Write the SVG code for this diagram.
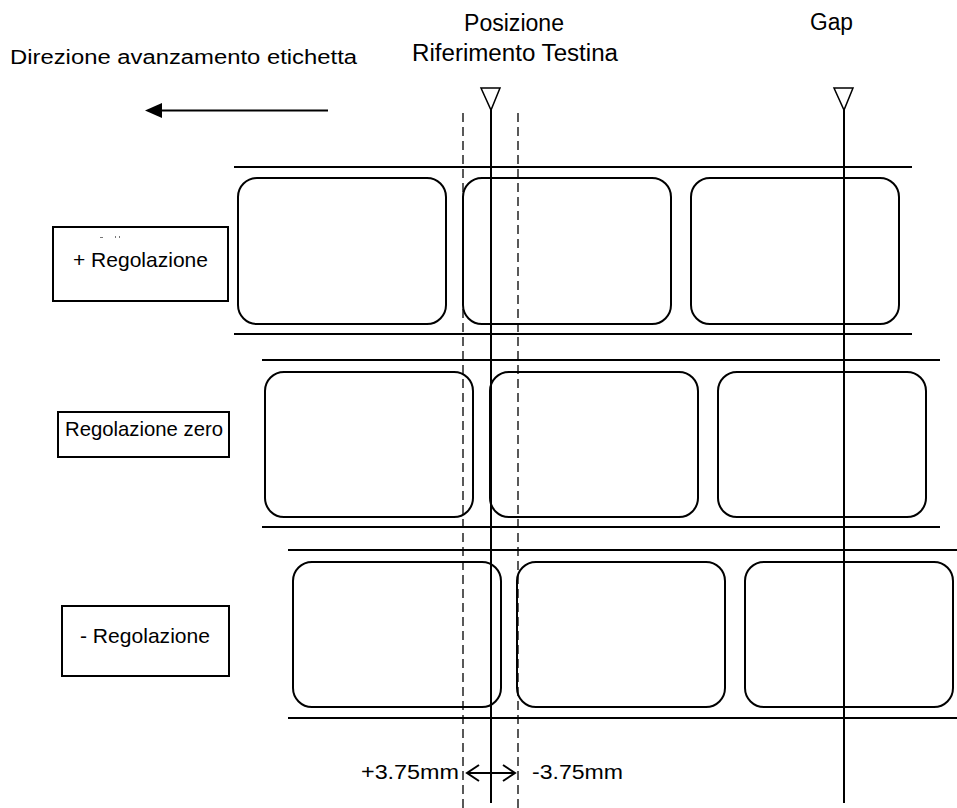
<svg xmlns="http://www.w3.org/2000/svg" width="957" height="808" viewBox="0 0 957 808">
<style>
  .t{font-family:"Liberation Sans",Arial,sans-serif;fill:#000}
  .lab{fill:#fff;stroke:#000;stroke-width:2}
  .web{stroke:#000;stroke-width:2;fill:none}
  .box{fill:#fff;stroke:#000;stroke-width:2}
  .dash{stroke:#000;stroke-width:1.3;stroke-dasharray:9,5;fill:none}
  .solid{stroke:#000;stroke-width:2;fill:none}
  .tri{fill:#fff;stroke:#000;stroke-width:1.5}
</style>
<rect width="957" height="808" fill="#fff"/>

<g id="titles">
  <text class="t" x="10" y="64" font-size="20" textLength="347" lengthAdjust="spacingAndGlyphs">Direzione avanzamento etichetta</text>
  <text class="t" x="464" y="31" font-size="23" textLength="100" lengthAdjust="spacingAndGlyphs">Posizione</text>
  <text class="t" x="412" y="61" font-size="23" textLength="206" lengthAdjust="spacingAndGlyphs">Riferimento Testina</text>
  <text class="t" x="810" y="30" font-size="23" textLength="43" lengthAdjust="spacingAndGlyphs">Gap</text>
</g>

<g id="row1">
  <line class="web" x1="234" y1="167" x2="912" y2="167"/>
  <line class="web" x1="234" y1="334" x2="912" y2="334"/>
  <rect class="lab" x="238" y="178" width="208" height="146" rx="19"/>
  <rect class="lab" x="463" y="178" width="208" height="146" rx="19"/>
  <rect class="lab" x="691" y="178" width="208" height="146" rx="19"/>
</g>
<g id="row2">
  <line class="web" x1="262" y1="360" x2="940" y2="360"/>
  <line class="web" x1="262" y1="527" x2="940" y2="527"/>
  <rect class="lab" x="265" y="372" width="208" height="145" rx="19"/>
  <rect class="lab" x="490" y="372" width="208" height="145" rx="19"/>
  <rect class="lab" x="718" y="372" width="208" height="145" rx="19"/>
</g>
<g id="row3">
  <line class="web" x1="288" y1="550" x2="957" y2="550"/>
  <line class="web" x1="288" y1="718" x2="957" y2="718"/>
  <rect class="lab" x="293" y="562" width="208" height="145" rx="19"/>
  <rect class="lab" x="517" y="562" width="208" height="145" rx="19"/>
  <rect class="lab" x="745" y="562" width="208" height="145" rx="19"/>
</g>

<g id="node-plus">
  <rect class="box" x="53" y="227" width="175" height="74"/>
  <rect x="100" y="237" width="3" height="1" fill="#777"/>
  <rect x="115" y="236" width="1" height="2" fill="#777"/>
  <rect x="119" y="236" width="1" height="2" fill="#777"/>
  <text class="t" x="73" y="267" font-size="21" textLength="135" lengthAdjust="spacingAndGlyphs">+ Regolazione</text>
</g>
<g id="node-zero">
  <rect class="box" x="58" y="412" width="171" height="45"/>
  <text class="t" x="65" y="436" font-size="21" textLength="158" lengthAdjust="spacingAndGlyphs">Regolazione zero</text>
</g>
<g id="node-minus">
  <rect class="box" x="62" y="606" width="167" height="70"/>
  <text class="t" x="80" y="643" font-size="21" textLength="130" lengthAdjust="spacingAndGlyphs">- Regolazione</text>
</g>

<g id="connectors">
  <line class="solid" x1="328" y1="110.5" x2="158" y2="110.5" stroke-width="2.4"/>
  <polygon points="145,110.5 162,103 162,118" fill="#000"/>
  <line class="dash" x1="463" y1="113" x2="463" y2="808"/>
  <line class="dash" x1="518" y1="113" x2="518" y2="808"/>
  <line class="solid" x1="491" y1="109" x2="491" y2="803"/>
  <polygon points="481,88 500,88 491,110" class="tri"/>
  <line class="solid" x1="844" y1="109" x2="844" y2="803"/>
  <polygon points="834,88 853,88 844,110" class="tri"/>
  <line class="solid" x1="467" y1="773" x2="515" y2="773" stroke-width="2.2"/>
  <polyline class="solid" points="479,765 467,773 479,781" stroke-width="2.2"/>
  <polyline class="solid" points="503,765 515,773 503,781" stroke-width="2.2"/>
</g>

<g id="dims">
  <text class="t" x="361" y="779" font-size="20" textLength="98" lengthAdjust="spacingAndGlyphs">+3.75mm</text>
  <text class="t" x="532" y="779" font-size="20" textLength="91" lengthAdjust="spacingAndGlyphs">-3.75mm</text>
</g>
</svg>
